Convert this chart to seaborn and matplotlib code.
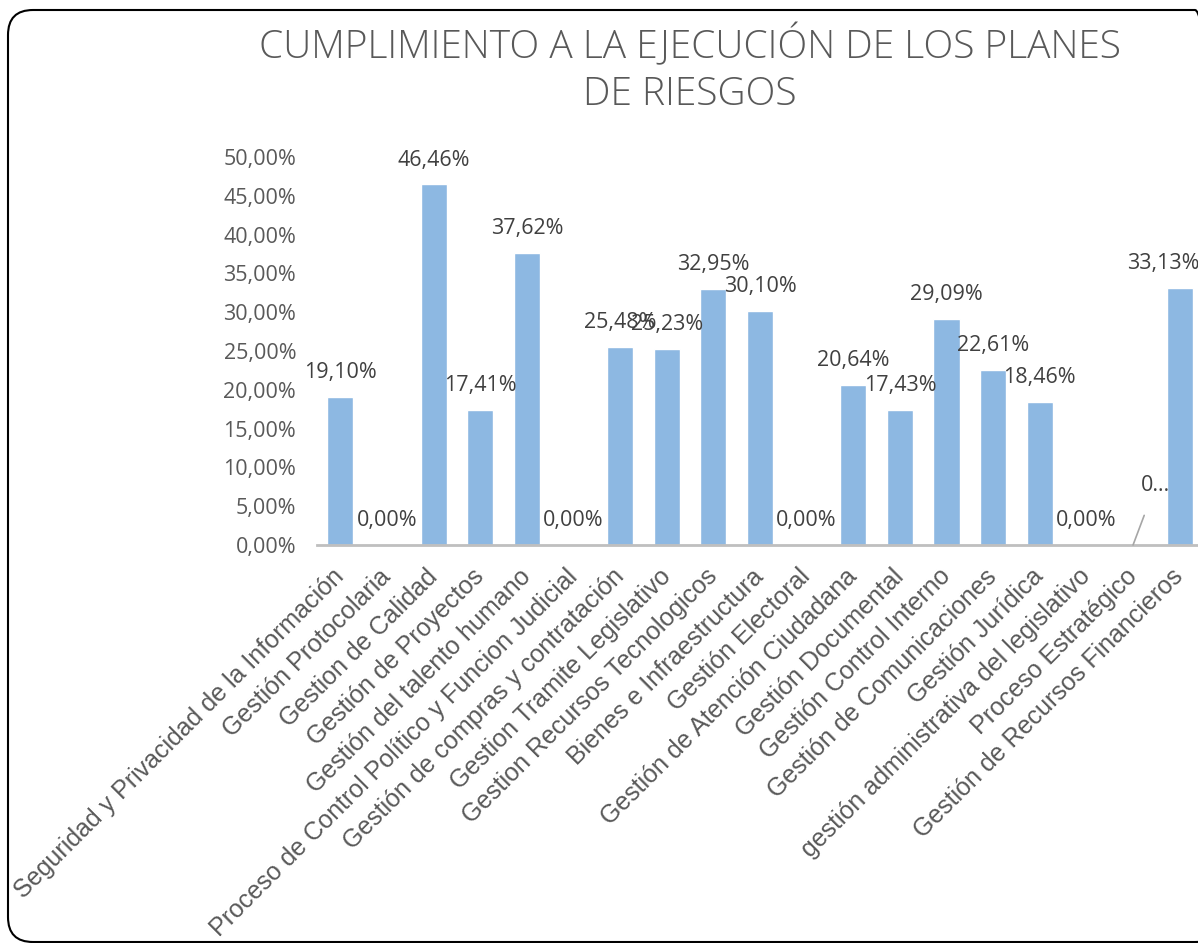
import numpy as np
import pandas as pd
import seaborn as sns
import matplotlib.pyplot as plt
import matplotlib.patches as mpatches
from matplotlib.transforms import IdentityTransform

sns.set_theme(style="white")
plt.rcParams['font.family'] = ['Open Sans', 'DejaVu Sans']

procesos = [
    "Seguridad y Privacidad de la Información",
    "Gestión Protocolaria",
    "Gestion de Calidad",
    "Gestión de Proyectos",
    "Gestión del talento humano",
    "Proceso de Control Político y Funcion Judicial",
    "Gestión de compras y contratación",
    "Gestion Tramite Legislativo",
    "Gestion Recursos Tecnologicos",
    "Bienes e Infraestructura",
    "Gestión Electoral",
    "Gestión de Atención Ciudadana",
    "Gestión Documental",
    "Gestión Control Interno",
    "Gestión de Comunicaciones",
    "Gestión Jurídica",
    "gestión administrativa del legislativo",
    "Proceso Estratégico",
    "Gestión de Recursos Financieros",
]
cumplimiento = [0.1910, 0.0, 0.4646, 0.1741, 0.3762, 0.0, 0.2548, 0.2523, 0.3295,
                0.3010, 0.0, 0.2064, 0.1743, 0.2909, 0.2261, 0.1846, 0.0, 0.0, 0.3313]
y_ticks = np.arange(0, 0.5001, 0.05)

df = pd.DataFrame({"proceso": procesos, "valor": cumplimiento})

fig = plt.figure(figsize=(11.98, 9.43), dpi=100)
ax = fig.add_axes([317 / 1198, 1 - 545 / 943, (1203 - 317) / 1198, (545 - 157) / 943])

sns.barplot(data=df, x="proceso", y="valor", color="#8DB8E2", saturation=1,
            width=0.56, ax=ax)

ax.set_ylim(0, 0.5)
ax.set_xlim(-0.5, len(procesos) - 0.5)
ax.set_yticks(y_ticks)
ax.set_yticklabels([f"{t * 100:.2f}%".replace(".", ",") for t in y_ticks],
                   fontsize=15.5, color="#595959")
ax.tick_params(axis="y", length=0, pad=15)
ax.tick_params(axis="x", length=0, pad=20)
ax.set_xticks(range(len(procesos)))
ax.set_xticklabels(procesos, rotation=45, ha="right", va="center",
                   rotation_mode="anchor", fontsize=18, color="#595959",
                   family="Liberation Sans")
ax.set_xlabel("")
ax.set_ylabel("")

for side in ["top", "right", "left"]:
    ax.spines[side].set_visible(False)
ax.spines["bottom"].set_color("#BFBFBF")
ax.spines["bottom"].set_linewidth(2)
ax.spines["bottom"].set_clip_on(False)

for i, v in enumerate(cumplimiento):
    if i == 17:
        ax.annotate("0…", xy=(i, v), xytext=(16, 42.5), textcoords="offset points",
                    ha="center", va="center", fontsize=15.5, color="#404040",
                    arrowprops=dict(arrowstyle="-", color="#A6A6A6", lw=1.2,
                                    shrinkA=12, shrinkB=0))
        continue
    dx = -12 if i == len(procesos) - 1 else 0
    ax.annotate(f"{v * 100:.2f}%".replace(".", ","), xy=(i, v), xytext=(dx, 17.6),
                textcoords="offset points", ha="center", va="center",
                fontsize=15.5, color="#404040", annotation_clip=False)

fig.text(690 / 1198, 1 - 69 / 943, "CUMPLIMIENTO A LA EJECUCIÓN DE LOS PLANES\nDE RIESGOS",
         ha="center", va="center", multialignment="center", fontsize=28,
         fontweight="light", color="#595959", linespacing=1.3)

fig.patches.append(mpatches.FancyBboxPatch(
    (8, 1), 1212, 932, boxstyle="round,pad=0,rounding_size=25",
    transform=IdentityTransform(), fill=False, edgecolor="black", linewidth=1.5))

fig.savefig("out.png", dpi=100)
